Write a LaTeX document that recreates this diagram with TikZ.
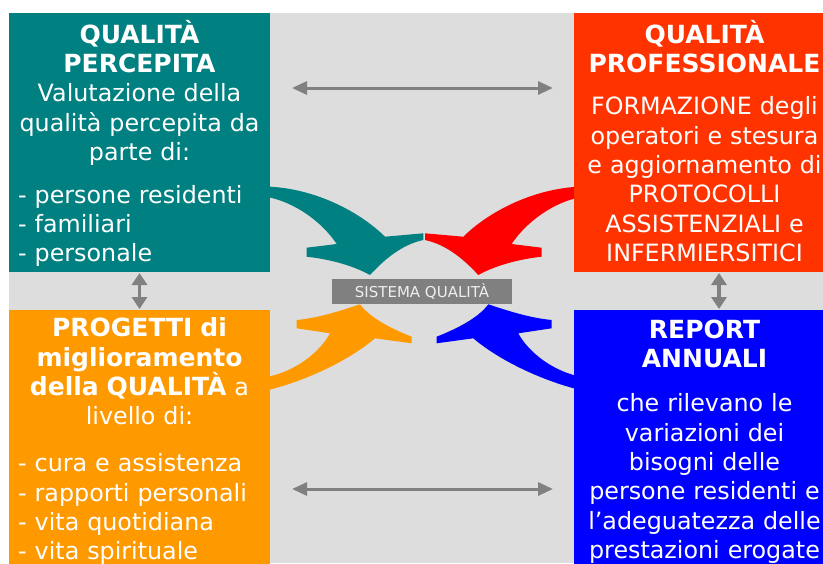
\documentclass[tikz,border=0pt]{standalone}
\usepackage{fontspec}
\setmainfont{DejaVu Sans}
\usetikzlibrary{arrows.meta}
\definecolor{bgray}{HTML}{DDDDDD}
\definecolor{tealbox}{HTML}{008080}
\definecolor{redbox}{HTML}{FF3300}
\definecolor{redarr}{HTML}{FF0000}
\definecolor{orabox}{HTML}{FF9900}
\definecolor{bluebox}{HTML}{0000FF}
\definecolor{linkgray}{HTML}{808080}
\definecolor{sistxt}{HTML}{EEEEEE}
\newcommand{\hd}{\fontsize{25}{29.3}\selectfont\bfseries}
\newcommand{\topbend}[1]{\fill[#1] (266,186.5) .. controls (315,188) and (360,212) .. (385,236.7) -- (423.3,233.3) -- (423.3,240) .. controls (400,245) and (382,262) .. (370,275) .. controls (352,265) and (328,259) .. (306.7,256.7) -- (306.7,247.7) -- (336.7,244) .. controls (322,222) and (295,202) .. (266,196.7) -- cycle;}
\newcommand{\botbend}[1]{\fill[#1] (266,390.5) .. controls (310,380) and (352,358) .. (375,338.3) -- (411.7,343.3) -- (411.7,336.7) .. controls (392,329) and (370,318) .. (360,304.3) .. controls (340,311) and (318,318) .. (296.7,320) -- (296.7,328.3) -- (330,333.3) .. controls (320,352) and (295,372) .. (266,377) -- cycle;}

\begin{document}
\begin{tikzpicture}[x=1pt,y=-1pt,
  box/.style={minimum width=261,minimum height=259,inner sep=0,outer sep=0},
  txt/.style={text=white,text width=260,align=center,inner sep=0,font=\fontsize{23.8}{29.3}\selectfont},
  lst/.style={text=white,text width=255,align=left,inner sep=0,font=\fontsize{23.8}{29.3}\selectfont},
  hlink/.style={linkgray,line width=3,{Triangle[length=15,width=13]}-{Triangle[length=15,width=13]}},
  vlink/.style={linkgray,line width=3.3,{Triangle[length=12,width=15]}-{Triangle[length=12,width=15]},shorten <=1,shorten >=1}]
\useasboundingbox (0,0) rectangle (823,563);
\clip (0,0) rectangle (823,563);
\fill[bgray] (9,13) rectangle (823,563);
\topbend{tealbox}
\topbend{redarr,xshift=848.3,xscale=-1}
\botbend{orabox}
\botbend{bluebox,xshift=848.3,xscale=-1}
\node[box,fill=tealbox] (perc) at (139.5,142.5) {};
\node[box,fill=redbox] (prof) at (704.5,142.5) {};
\node[box,fill=orabox] (prog) at (139.5,439.5) {};
\node[box,fill=bluebox] (rep) at (704.5,439.5) {};
\node[txt,anchor=base] (percT) at (139.5,43.3) {{\hd QUALITÀ\\PERCEPITA}\\Valutazione della\\qualità percepita da\\parte di:};
\node[lst,anchor=base west] (percL) at (18,203) {- persone residenti\\- familiari\\- personale};
\node[txt,anchor=base] (profT) at (704.5,43.3) {{\hd QUALITÀ\\PROFESSIONALE}\\[13pt]FORMAZIONE degli\\operatori e stesura\\e aggiornamento di\\PROTOCOLLI\\ASSISTENZIALI e\\INFERMIERSITICI};
\node[txt,anchor=base] (progT) at (139.5,336.7) {{\hd PROGETTI di\\miglioramento\\della QUALITÀ} a\\livello di:};
\node[lst,anchor=base west] (progL) at (18,471.7) {- cura e assistenza\\- rapporti personali\\- vita quotidiana\\- vita spirituale};
\node[txt,anchor=base] (repT) at (704.5,338.3) {{\hd REPORT\\ANNUALI}\\[15pt]che rilevano le\\variazioni dei\\bisogni delle\\persone residenti e\\l’adeguatezza delle\\prestazioni erogate};
\node[fill=linkgray,text=sistxt,minimum width=180,minimum height=25,inner sep=0,font=\fontsize{15}{18}\selectfont] (sist) at (422,291.5) {SISTEMA QUALITÀ};
\coordinate (hl1) at (292,88);
\coordinate (hr1) at (553,88);
\coordinate (hl2) at (292,489);
\coordinate (hr2) at (553,489);
\coordinate (rx) at (719,0);
\draw[hlink] (hl1) -- (hr1);
\draw[hlink] (hl2) -- (hr2);
\draw[vlink] (perc.south) -- (prog.north);
\draw[vlink] (prof.south -| rx) -- (rep.north -| rx);
\end{tikzpicture}
\end{document}
